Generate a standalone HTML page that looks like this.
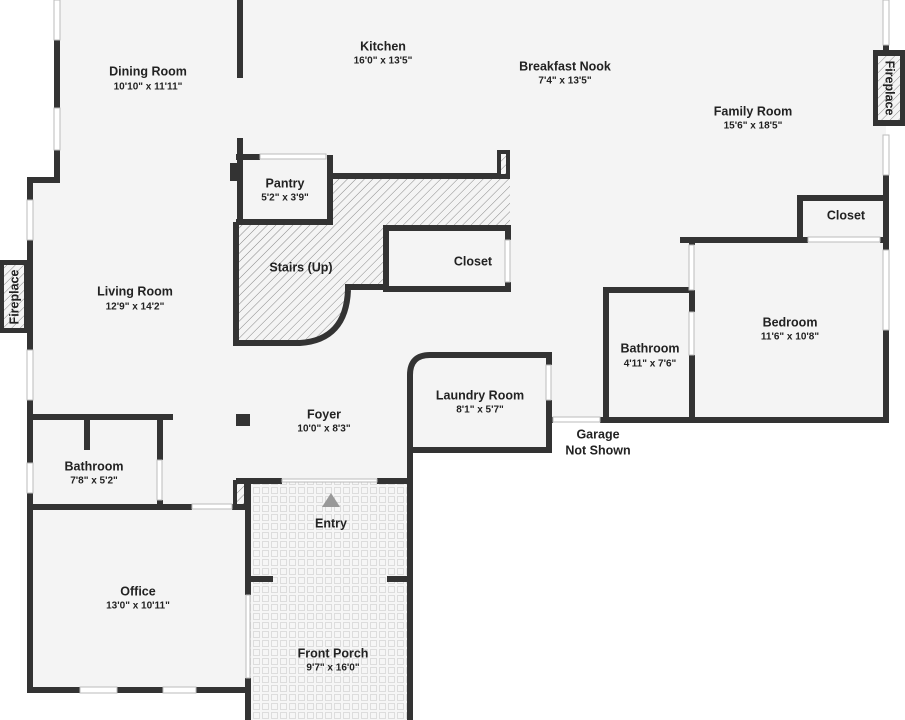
<!DOCTYPE html>
<html><head><meta charset="utf-8"><style>
html,body{margin:0;padding:0;background:#fff;}
svg{display:block}
.l{font-family:"Liberation Sans",sans-serif;font-weight:bold;font-size:12.5px;fill:#222;text-anchor:middle;dominant-baseline:middle}
.d{font-family:"Liberation Sans",sans-serif;font-weight:bold;font-size:10px;fill:#222;text-anchor:middle;dominant-baseline:middle}
</style></head><body>
<svg width="905" height="720" viewBox="0 0 905 720" xmlns="http://www.w3.org/2000/svg">
<defs>
<pattern id="h" width="6" height="6" patternUnits="userSpaceOnUse" patternTransform="rotate(45)">
<rect width="6" height="6" fill="#f4f4f4"/><line x1="0" y1="0" x2="0" y2="6" stroke="#888" stroke-width="1"/></pattern>
<pattern id="t" width="9" height="9" patternUnits="userSpaceOnUse">
<rect width="9" height="9" fill="#f6f6f6"/><rect x="1.5" y="1.5" width="6" height="6" fill="none" stroke="#ddd" stroke-width="1"/></pattern>
</defs>
<rect width="905" height="720" fill="#fff"/>
<polygon points="58,0 886,0 886,420 550,420 550,450 410,450 410,720 248,720 248,690 28,690 28,180 58,180" fill="#f4f4f4"/>
<rect x="248" y="481" width="162" height="239" fill="url(#t)"/>
<!-- stairs -->
<path d="M333,178 H510 V228 H386 V287 H348 Q348,340 300,343 H236 V225 H333 Z" fill="url(#h)"/>
<g stroke="#333" stroke-width="6" fill="none">
<!-- left walls -->
<line x1="57" y1="40" x2="57" y2="108"/><line x1="57" y1="150" x2="57" y2="183"/>
<line x1="27" y1="180" x2="60" y2="180"/>
<line x1="30" y1="180" x2="30" y2="200"/><line x1="30" y1="240" x2="30" y2="350"/>
<line x1="30" y1="400" x2="30" y2="463"/><line x1="30" y1="493" x2="30" y2="693"/>
<line x1="27" y1="690" x2="80" y2="690"/><line x1="117" y1="690" x2="163" y2="690"/><line x1="196" y1="690" x2="248" y2="690"/>
<line x1="240" y1="0" x2="240" y2="78"/>
<!-- pantry -->
<line x1="240" y1="138" x2="240" y2="225"/><line x1="236" y1="157" x2="260" y2="157"/>
<line x1="330" y1="155" x2="330" y2="225"/><line x1="236" y1="222" x2="333" y2="222"/>
<!-- stairs walls -->
<line x1="330" y1="176" x2="510" y2="176"/><line x1="236" y1="222" x2="236" y2="346"/>
<path d="M233,343 H300 Q346,340 348,290"/><line x1="345" y1="287" x2="386" y2="287"/>
<!-- closet -->
<path d="M508,240 V228 H386 V289 H508 V282"/>
<!-- laundry -->
<path d="M410,720 V375 Q410,355 430,355 H549 V365"/><line x1="549" y1="400" x2="549" y2="420"/>
<line x1="410" y1="450" x2="550" y2="450"/><line x1="549" y1="420" x2="549" y2="453"/><line x1="546" y1="420" x2="553" y2="420"/>
<!-- right rooms -->
<line x1="600" y1="420" x2="889" y2="420"/>
<path d="M692,290 H606 V420"/>
<line x1="692" y1="240" x2="692" y2="245"/><line x1="692" y1="290" x2="692" y2="312"/><line x1="692" y1="355" x2="692" y2="420"/>
<line x1="680" y1="240" x2="808" y2="240"/><line x1="880" y1="240" x2="889" y2="240"/>
<path d="M800,240 V198 H886"/>
<line x1="886" y1="45" x2="886" y2="50"/><line x1="886" y1="175" x2="886" y2="250"/><line x1="886" y1="330" x2="886" y2="420"/>
<!-- lower left -->
<line x1="28" y1="417" x2="173" y2="417"/><line x1="87" y1="417" x2="87" y2="450"/>
<line x1="160" y1="417" x2="160" y2="460"/><line x1="160" y1="500" x2="160" y2="507"/>
<line x1="28" y1="507" x2="192" y2="507"/><line x1="232" y1="507" x2="248" y2="507"/>
<!-- porch -->
<line x1="236" y1="481" x2="282" y2="481"/><line x1="377" y1="481" x2="413" y2="481"/>
<line x1="248" y1="481" x2="248" y2="595"/><line x1="248" y1="678" x2="248" y2="720"/>
<line x1="248" y1="579" x2="273" y2="579"/><line x1="387" y1="579" x2="410" y2="579"/>
</g>
<!-- windows/doors light lines -->
<g stroke="#bbb" stroke-width="1" fill="#fff">
<rect x="54" y="0" width="6" height="40"/><rect x="54" y="108" width="6" height="42"/>
<rect x="27" y="200" width="6" height="40"/><rect x="27" y="350" width="6" height="50"/><rect x="27" y="463" width="6" height="30"/>
<rect x="80" y="687" width="37" height="6"/><rect x="163" y="687" width="33" height="6"/>
<rect x="260" y="154" width="66" height="5"/><rect x="505" y="240" width="5" height="42"/>
<rect x="546" y="365" width="5" height="35"/><rect x="553" y="417" width="47" height="5"/>
<rect x="689" y="245" width="5" height="45"/><rect x="689" y="312" width="5" height="43"/>
<rect x="808" y="237" width="72" height="5"/>
<rect x="883" y="0" width="6" height="45"/><rect x="883" y="135" width="6" height="40"/><rect x="883" y="250" width="6" height="80"/>
<rect x="157" y="460" width="5" height="40"/><rect x="192" y="504" width="40" height="5"/>
<rect x="282" y="479" width="95" height="3"/><rect x="246" y="595" width="4" height="83"/>
</g>
<!-- posts -->
<rect x="497" y="150" width="13" height="28" fill="#333"/><rect x="501" y="154" width="5" height="20" fill="url(#h)"/>
<rect x="230" y="163" width="12" height="18" fill="#333"/>
<rect x="236" y="414" width="14" height="12" fill="#333"/>
<rect x="233" y="480" width="15" height="28" fill="#333"/><rect x="237" y="484" width="7" height="20" fill="url(#h)"/>
<!-- fireplaces -->
<rect x="0" y="260" width="29" height="73" fill="#333"/><rect x="4" y="265" width="20" height="63" fill="url(#h)"/>
<text class="l" transform="translate(15,297) rotate(-90)" font-size="12">Fireplace</text>
<rect x="873" y="50" width="32" height="76" fill="#333"/><rect x="878" y="56" width="22" height="64" fill="url(#h)"/>
<text class="l" transform="translate(889,88) rotate(90)" font-size="12">Fireplace</text>
<polygon points="322,507 331,493 340,507" fill="#999"/>
<text class="l" x="383" y="47">Kitchen</text><text class="d" x="383" y="61">16'0" x 13'5"</text>
<text class="l" x="148" y="72">Dining Room</text><text class="d" x="148" y="87">10'10" x 11'11"</text>
<text class="l" x="565" y="67">Breakfast Nook</text><text class="d" x="565" y="81">7'4" x 13'5"</text>
<text class="l" x="753" y="112">Family Room</text><text class="d" x="753" y="126">15'6" x 18'5"</text>
<text class="l" x="285" y="184">Pantry</text><text class="d" x="285" y="198">5'2" x 3'9"</text>
<text class="l" x="301" y="268">Stairs (Up)</text>
<text class="l" x="473" y="262">Closet</text>
<text class="l" x="846" y="216">Closet</text>
<text class="l" x="135" y="292">Living Room</text><text class="d" x="135" y="307">12'9" x 14'2"</text>
<text class="l" x="790" y="323">Bedroom</text><text class="d" x="790" y="337">11'6" x 10'8"</text>
<text class="l" x="650" y="349">Bathroom</text><text class="d" x="650" y="364">4'11" x 7'6"</text>
<text class="l" x="480" y="396">Laundry Room</text><text class="d" x="480" y="410">8'1" x 5'7"</text>
<text class="l" x="324" y="415">Foyer</text><text class="d" x="324" y="429">10'0" x 8'3"</text>
<text class="l" x="598" y="435">Garage</text><text class="l" x="598" y="451">Not Shown</text>
<text class="l" x="94" y="467">Bathroom</text><text class="d" x="94" y="481">7'8" x 5'2"</text>
<text class="l" x="331" y="524">Entry</text>
<text class="l" x="138" y="592">Office</text><text class="d" x="138" y="606">13'0" x 10'11"</text>
<text class="l" x="333" y="654">Front Porch</text><text class="d" x="333" y="668">9'7" x 16'0"</text>
</svg>
</body></html>
